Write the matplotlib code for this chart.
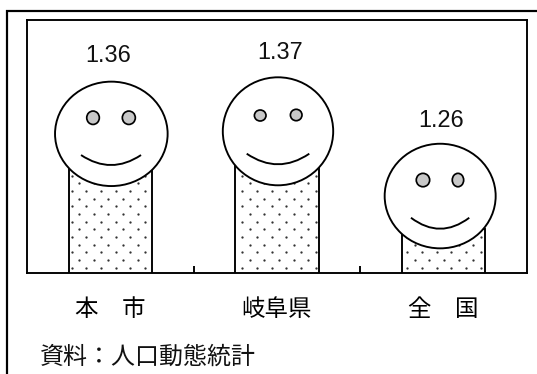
import numpy as np
import matplotlib
matplotlib.use("Agg")
import matplotlib.pyplot as plt
from matplotlib.patches import Ellipse, PathPatch, Rectangle
from matplotlib.path import Path
from matplotlib.lines import Line2D
from matplotlib.transforms import IdentityTransform

# data
categories = ["本　市", "岐阜県", "全　国"]
values = [1.36, 1.37, 1.26]
value_labels = ["1.36", "1.37", "1.26"]
source_text = "資料：人口動態統計"

# layout (pixels)
W, H = 537, 374
AX_L, AX_R, AX_T, AX_B = 27, 527, 20, 272.5
Y_MIN, Y_MAX = 1.19, 1.594
BAR_WIDTH = 0.5
FACE_OFFSET = [(1.0, -32.4), (1.0, -28.7), (-3.5, -32.7)]
FACE_RADII = [(56.3, 52.2), (55.2, 54.0), (55.5, 52.3)]
EYES = [
    [(-18.3, -16.1, 6.3, 6.7), (17.5, -16.1, 6.5, 6.7)],
    [(-17.8, -15.8, 5.8, 5.5), (18.2, -16.3, 5.8, 5.7)],
    [(-17.2, -16.0, 6.7, 6.7), (17.8, -16.0, 5.7, 6.7)],
]
SMILES = [(-30.3, 29.7, 21.2, 10.0), (-31.3, 31.3, 22.4, 10.6), (-29.2, 29.1, 21.7, 11.0)]
LABEL_POS = [(-3.5, -78.0), (2.0, -78.5), (1.3, -76.0)]
DOT_X0 = [71.7, 242.3, 407.3]
DOT_DX, DOT_DY, DOT_Y0 = 14.65, 7.65, 267.5

plt.rcParams["font.family"] = ["Liberation Sans", "Noto Sans CJK JP", "DejaVu Sans"]
px = 0.72  # points per pixel at dpi 100
LW = 1.9 * px


fig = plt.figure(figsize=(W / 100, H / 100), dpi=100, facecolor="white")
ax = fig.add_axes([AX_L / W, 1 - AX_B / H, (AX_R - AX_L) / W, (AX_B - AX_T) / H])
ax.set_xlim(-0.5, 2.5)
ax.set_ylim(Y_MIN, Y_MAX)
for s in ax.spines.values():
    s.set_linewidth(LW)
    s.set_color("black")
ax.set_yticks([])
positions = np.arange(len(categories))
ax.set_xticks(positions)
ax.set_xticklabels(categories, family=["Noto Sans CJK JP"], fontsize=23.5 * px)
ax.tick_params(axis="x", which="major", length=0, pad=18)
ax.set_xticks(positions[:-1] + 0.5, minor=True)
ax.tick_params(axis="x", which="minor", direction="in", length=7.5 * px, width=LW)

bars = ax.bar(positions, values, width=BAR_WIDTH, facecolor="white",
              edgecolor="black", linewidth=LW, zorder=2)

fig.canvas.draw()
idt = IdentityTransform()

for i, v in enumerate(values):
    tx, ty = ax.transData.transform((positions[i], v))
    bx0, _ = ax.transData.transform((positions[i] - BAR_WIDTH / 2, v))
    bx1, _ = ax.transData.transform((positions[i] + BAR_WIDTH / 2, v))
    # dot texture inside the bar
    xs, ys = [], []
    for r in range(40):
        y_pix = DOT_Y0 - r * DOT_DY
        if H - y_pix > ty:
            break
        shift = DOT_DX / 2 if r % 2 else 0
        for c in range(-1, 8):
            x_pix = DOT_X0[i] + shift + c * DOT_DX
            if bx0 + 1 < x_pix < bx1 - 0.5:
                xs.append(x_pix)
                ys.append(H - y_pix)
    ax.add_line(Line2D(xs, ys, transform=idt, ls="none", marker="o", ms=2.3 * px,
                       mfc="#333333", mec="none", zorder=3, clip_on=False))
    # face
    cx = tx + FACE_OFFSET[i][0]
    cy = ty - FACE_OFFSET[i][1]
    rx, ry = FACE_RADII[i]
    ax.add_patch(Ellipse((cx, cy), 2 * rx, 2 * ry, transform=idt, facecolor="white",
                         edgecolor="black", linewidth=LW, zorder=4, clip_on=False))
    for ex, ey, erx, ery in EYES[i]:
        ax.add_patch(Ellipse((cx + ex, cy - ey), 2 * erx, 2 * ery, transform=idt,
                             facecolor="#c8c8c8", edgecolor="black", linewidth=LW * 0.9,
                             zorder=5, clip_on=False))
    sl, sr, sy, sag = SMILES[i]
    path = Path([(cx + sl, cy - sy), (cx + (sl + sr) / 2, cy - sy - 2 * sag), (cx + sr, cy - sy)],
                [Path.MOVETO, Path.CURVE3, Path.CURVE3])
    ax.add_patch(PathPatch(path, transform=idt, facecolor="none", edgecolor="black",
                           linewidth=LW, zorder=5, clip_on=False))
    # value label
    lx, ly = LABEL_POS[i]
    ax.text(cx + lx, cy - ly, value_labels[i], transform=idt, ha="center", va="center",
            fontsize=23.5 * px, color="#111111", zorder=6)

# outer frame, running off the right and bottom edges
fig.add_artist(Rectangle((6.5 / W, -0.1), 1.0, 1.1 - 11.5 / H, transform=fig.transFigure,
                         facecolor="none", edgecolor="black", linewidth=2.2 * px))
fig.text(40 / W, 1 - 357 / H, source_text, ha="left", va="center",
         family=["Noto Sans CJK JP"], fontsize=24 * px, color="#111111")

fig.savefig("out.png", dpi=100)
